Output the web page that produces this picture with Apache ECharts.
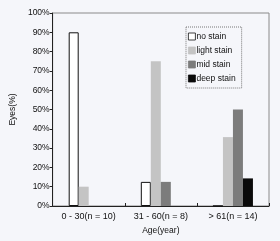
<!DOCTYPE html>
<html><head><meta charset="utf-8">
<script src="https://cdn.jsdelivr.net/npm/echarts@6/dist/echarts.min.js"></script>
<style>html,body{margin:0;padding:0;background:#f5f6fa}#c{width:280px;height:241px}</style>
</head><body><div id="c"></div>
<script>
const categories = ['0 - 30(n = 10)', '31 - 60(n = 8)', '> 61(n = 14)'];
const noStain = [90, 12.5, 0];
const lightStain = [10, 75, 35.7];
const midStain = [0, 12.5, 50];
const deepStain = [0, 0, 14.3];

const chart = echarts.init(document.getElementById('c'), null, {renderer:'canvas'});
const font = 'Liberation Sans';
function bar(name, data, color, border){
  return {name, type:'bar', data, barWidth:10, barGap:'0%',
    itemStyle:{color, borderColor: border || color, borderWidth: border?1:0}};
}
chart.setOption({
  backgroundColor:'#f5f6fa',
  animation:false,
  grid:{left:40, right:11, top:13, bottom:35, show:true, borderColor:'#8a8a8a', borderWidth:1, backgroundColor:'transparent'},
  legend:{orient:'vertical', left:186, top:27, padding:[5,6,5,2], itemGap:5,
    itemWidth:7, itemHeight:7, icon:'rect', borderColor:'#777', borderWidth:1, borderType:'dotted',
    itemStyle:{borderWidth:0.8},
    textStyle:{fontFamily:font, fontSize:8.5, color:'#111', padding:[0,0,0,-4]},
    data:['no stain','light stain','mid stain','deep stain']},
  xAxis:{type:'category', data:categories, name:'Age(year)', nameLocation:'middle', nameGap:19,
    nameTextStyle:{fontFamily:font, fontSize:8.5, color:'#111'},
    axisLine:{lineStyle:{color:'#222', width:1}},
    axisTick:{show:true, inside:true, length:3, lineStyle:{color:'#222'}},
    axisLabel:{fontFamily:font, fontSize:9, color:'#111', margin:6}},
  yAxis:{type:'value', min:0, max:100, interval:10, name:'Eyes(%)', nameLocation:'middle', nameGap:27,
    nameTextStyle:{fontFamily:font, fontSize:8.5, color:'#111'},
    splitLine:{show:false},
    axisLine:{show:true, lineStyle:{color:'#222', width:1}},
    axisTick:{show:true, length:3, lineStyle:{color:'#222'}},
    axisLabel:{fontFamily:font, fontSize:8.5, color:'#111', margin:3, formatter: v => v + '%'}},
  series:[
    bar('no stain', noStain, '#ffffff', '#111'),
    bar('light stain', lightStain, '#c4c4c4'),
    bar('mid stain', midStain, '#7c7c7c'),
    bar('deep stain', deepStain, '#0a0a0a')
  ]
});
</script></body></html>
